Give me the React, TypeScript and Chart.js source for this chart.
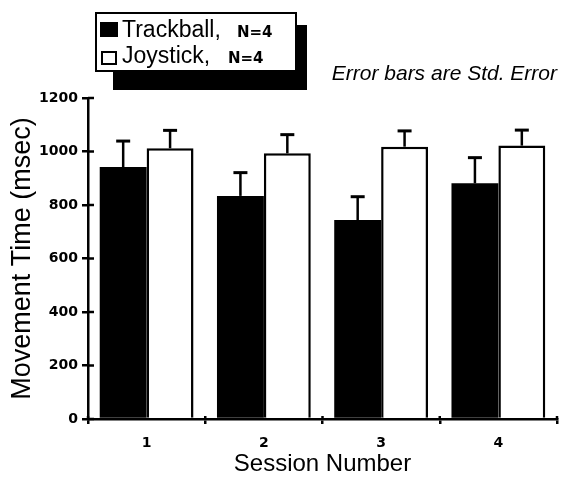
import React, { useEffect, useRef } from "react";
import { Chart, registerables } from "chart.js";

Chart.register(...registerables);

// Session means (msec) and standard errors for each input device
const sessions = ["1", "2", "3", "4"];
const trackballMean = [942, 834, 744, 881];
const trackballSE = [97, 87, 87, 96];
const joystickMean = [1012, 993, 1018, 1022];
const joystickSE = [67, 70, 59, 58];

const yTickMin = 0;
const yTickMax = 1200;
const yTickStep = 200;

const legendItems = [
  { label: "Trackball,", note: "N=4", fill: "#000" },
  { label: "Joystick,", note: "N=4", fill: "#fff" },
];
const noteText = "Error bars are Std. Error";

const SANS = "'Liberation Sans', Arial, Helvetica, sans-serif";
const BOLD = "'DejaVu Sans', Verdana, sans-serif";

// Upward-only error bars with flat caps
const errorBarPlugin = {
  id: "errorBars",
  afterDatasetsDraw(chart: any) {
    const ctx = chart.ctx;
    const yScale = chart.scales.y;
    const errs = [trackballSE, joystickSE];
    chart.data.datasets.forEach((ds: any, di: number) => {
      const meta = chart.getDatasetMeta(di);
      meta.data.forEach((bar: any, i: number) => {
        const v = ds.data[i];
        const yTop = yScale.getPixelForValue(v);
        const yErr = yScale.getPixelForValue(v + errs[di][i]);
        ctx.save();
        ctx.strokeStyle = "#000";
        ctx.lineWidth = 2.5;
        ctx.beginPath();
        ctx.moveTo(bar.x, yTop);
        ctx.lineTo(bar.x, yErr);
        ctx.stroke();
        ctx.lineWidth = 3;
        ctx.beginPath();
        ctx.moveTo(bar.x - 7, yErr);
        ctx.lineTo(bar.x + 7, yErr);
        ctx.stroke();
        ctx.restore();
      });
    });
  },
};

// Tick marks that cross the axis lines (inner half)
const crossTickPlugin = {
  id: "crossTicks",
  afterDraw(chart: any) {
    const ctx = chart.ctx;
    const { left, right, bottom } = chart.chartArea;
    const yScale = chart.scales.y;
    ctx.save();
    ctx.strokeStyle = "#000";
    ctx.lineWidth = 2.5;
    yScale.ticks.forEach((t: any) => {
      const py = yScale.getPixelForValue(t.value);
      ctx.beginPath();
      ctx.moveTo(left, py);
      ctx.lineTo(left + 6, py);
      ctx.stroke();
    });
    const n = sessions.length;
    for (let i = 0; i <= n; i++) {
      const px = left + ((right - left) * i) / n;
      ctx.beginPath();
      ctx.moveTo(px, bottom);
      ctx.lineTo(px, bottom - 3);
      ctx.stroke();
    }
    ctx.restore();
  },
};

// Boxed legend with a drop shadow, plus the error-bar note
const legendPlugin = {
  id: "boxLegend",
  afterDraw(chart: any) {
    const ctx = chart.ctx;
    ctx.save();
    ctx.fillStyle = "#000";
    ctx.fillRect(113, 25, 194, 65);
    ctx.fillStyle = "#fff";
    ctx.fillRect(95, 12, 202, 60);
    ctx.strokeStyle = "#000";
    ctx.lineWidth = 2;
    ctx.strokeRect(96, 13, 200, 58);

    const rows = [
      { sq: [100, 22, 18, 15], base: 37, noteX: 237 },
      { sq: [102, 52, 14, 12], base: 63, noteX: 228 },
    ];
    legendItems.forEach((item, i) => {
      const r = rows[i];
      if (item.fill === "#000") {
        ctx.fillStyle = "#000";
        ctx.fillRect(r.sq[0], r.sq[1], r.sq[2], r.sq[3]);
      } else {
        ctx.fillStyle = "#fff";
        ctx.fillRect(r.sq[0], r.sq[1], r.sq[2], r.sq[3]);
        ctx.lineWidth = 2;
        ctx.strokeStyle = "#000";
        ctx.strokeRect(r.sq[0], r.sq[1], r.sq[2], r.sq[3]);
      }
      ctx.fillStyle = "#000";
      ctx.textBaseline = "alphabetic";
      ctx.textAlign = "left";
      ctx.font = `23px ${SANS}`;
      ctx.fillText(item.label, 122, r.base);
      ctx.font = `bold 15px ${BOLD}`;
      ctx.fillText(item.note, r.noteX, r.base);
    });

    ctx.font = `italic 21px ${SANS}`;
    ctx.textAlign = "right";
    ctx.fillText(noteText, 557, 80);
    ctx.restore();
  },
};

export default function App() {
  const canvasRef = useRef<HTMLCanvasElement | null>(null);

  useEffect(() => {
    document.body.style.margin = "0";
    const canvas = canvasRef.current;
    if (!canvas) return;
    const chart = new Chart(canvas, {
      type: "bar",
      data: {
        labels: sessions,
        datasets: [
          {
            label: "Trackball",
            data: trackballMean,
            backgroundColor: "#000",
            borderColor: "#000",
            borderWidth: 0,
            categoryPercentage: 0.8,
            barPercentage: 1.0,
          },
          {
            label: "Joystick",
            data: joystickMean,
            backgroundColor: "#fff",
            borderColor: "#000",
            borderWidth: 2.5,
            categoryPercentage: 0.8,
            barPercentage: 1.0,
          },
        ],
      },
      options: {
        animation: false,
        responsive: true,
        maintainAspectRatio: false,
        layout: { padding: { top: 98, right: 6, left: 0, bottom: 0 } },
        plugins: {
          legend: { display: false },
          tooltip: { enabled: false },
        },
        scales: {
          x: {
            afterFit: (s: any) => {
              s.height = 60;
            },
            grid: {
              offset: true,
              drawOnChartArea: false,
              drawTicks: true,
              tickLength: 5,
              lineWidth: 2.5,
              color: "#000",
            },
            border: { display: true, color: "#000", width: 2.5 },
            ticks: {
              color: "#000",
              font: { family: BOLD, size: 14, weight: "bold" },
              padding: 11,
            },
            title: {
              display: true,
              text: "Session Number",
              color: "#000",
              font: { family: SANS, size: 24 },
              padding: { top: 0, bottom: 0 },
            },
          },
          y: {
            min: yTickMin,
            max: yTickMax,
            afterFit: (s: any) => {
              s.width = 88;
            },
            grid: {
              drawOnChartArea: false,
              drawTicks: true,
              tickLength: 6,
              lineWidth: 2.5,
              color: "#000",
            },
            border: { display: true, color: "#000", width: 2.5 },
            ticks: {
              stepSize: yTickStep,
              color: "#000",
              font: { family: BOLD, size: 14, weight: "bold" },
              padding: 4,
              callback: (v: any) => String(v),
            },
            title: {
              display: true,
              text: "Movement Time (msec)",
              color: "#000",
              font: { family: SANS, size: 27 },
              padding: { top: 6, bottom: 0 },
            },
          },
        },
      },
      plugins: [errorBarPlugin, crossTickPlugin, legendPlugin],
    } as any);
    return () => chart.destroy();
  }, []);

  return (
    <div style={{ width: 563, height: 479, position: "relative", background: "#fff" }}>
      <canvas ref={canvasRef} />
    </div>
  );
}
